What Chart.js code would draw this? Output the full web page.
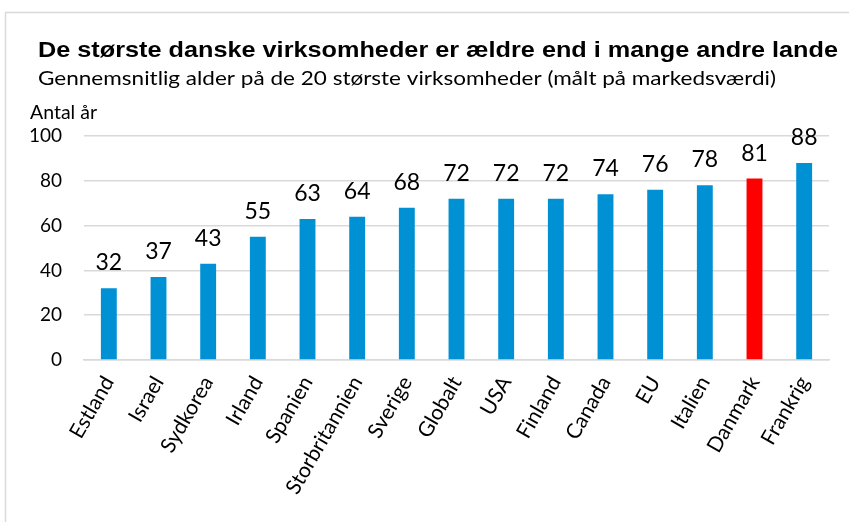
<!DOCTYPE html>
<html>
<head>
<meta charset="utf-8">
<script src="https://cdn.jsdelivr.net/npm/chart.js@4"></script>
<style>
  html, body { margin: 0; padding: 0; background: #fff; }
  #wrap { width: 849px; height: 522px; position: relative; }
</style>
</head>
<body>
<div id="wrap"><canvas id="chart" width="849" height="522"></canvas></div>
<script>
// data
var lande = ['Estland', 'Israel', 'Sydkorea', 'Irland', 'Spanien', 'Storbritannien', 'Sverige',
             'Globalt', 'USA', 'Finland', 'Canada', 'EU', 'Italien', 'Danmark', 'Frankrig'];
var alder = [32, 37, 43, 55, 63, 64, 68, 72, 72, 72, 74, 76, 78, 81, 88];
var yTicks = [0, 20, 40, 60, 80, 100];

var blaa = '#0091d5';
var roed = '#ff0000';
var farver = lande.map(function(l){ return l === 'Danmark' ? roed : blaa; });

// the reference text is a bit wider than the fonts we have, so stretch it sideways
function strakTekst(ctx, txt, x, y, bredde){
    var w = ctx.measureText(txt).width;
    ctx.save();
    ctx.translate(x, y);
    ctx.scale(bredde / w, 1);
    ctx.fillText(txt, 0, 0);
    ctx.restore();
}

var tekster = {
    id: 'tekster',
    beforeDraw: function(chart){
        var ctx = chart.ctx;
        ctx.save();
        // frame
        ctx.strokeStyle = '#d9d9d9';
        ctx.lineWidth = 1.5;
        ctx.beginPath();
        ctx.moveTo(5.5, 530);
        ctx.lineTo(5.5, 12.5);
        ctx.lineTo(860, 12.5);
        ctx.stroke();
        ctx.restore();
    },
    afterDraw: function(chart){
        var ctx = chart.ctx;
        ctx.save();
        ctx.fillStyle = '#000';
        ctx.textBaseline = 'alphabetic';
        ctx.textAlign = 'left';
        ctx.font = 'bold 22px "Liberation Sans", Arial, sans-serif';
        strakTekst(ctx, 'De største danske virksomheder er ældre end i mange andre lande', 38, 57, 800);
        ctx.font = '19px Lato, sans-serif';
        strakTekst(ctx, 'Gennemsnitlig alder på de 20 største virksomheder (målt på markedsværdi)', 38, 85, 738);
        strakTekst(ctx, 'Antal år', 30, 119, 67);

        // value labels above the bars
        var meta = chart.getDatasetMeta(0);
        ctx.font = '23px Lato, sans-serif';
        ctx.textAlign = 'center';
        meta.data.forEach(function(bar, i){
            ctx.fillText(String(alder[i]), bar.x, bar.y - 18);
        });
        ctx.restore();
    }
};

var ctx = document.getElementById('chart').getContext('2d');
var myChart = new Chart(ctx, {
    type: 'bar',
    data: {
        labels: lande,
        datasets: [{
            data: alder,
            backgroundColor: farver,
            borderWidth: 0,
            categoryPercentage: 1,
            barPercentage: 0.32
        }]
    },
    options: {
        responsive: false,
        animation: false,
        layout: { padding: { top: 136, right: 20, bottom: 0, left: 0 } },
        plugins: {
            legend: { display: false },
            tooltip: { enabled: false }
        },
        scales: {
            x: {
                grid: { display: false, drawTicks: false },
                border: { color: '#d9d9d9', width: 1.5 },
                ticks: {
                    color: '#000',
                    font: { family: 'Lato', size: 21 },
                    minRotation: 60,
                    maxRotation: 60,
                    autoSkip: false,
                    padding: 12
                },
                afterFit: function(scale){ scale.height = 162; }
            },
            y: {
                min: 0,
                max: 100,
                afterBuildTicks: function(scale){
                    scale.ticks = yTicks.map(function(v){ return { value: v }; });
                },
                grid: { color: '#d9d9d9', lineWidth: 1.5, drawTicks: false },
                border: { display: false },
                ticks: {
                    color: '#000',
                    font: { family: 'Lato', size: 19 },
                    padding: 22
                },
                afterFit: function(scale){ scale.width = 84; }
            }
        }
    },
    plugins: [tekster]
});
</script>
</body>
</html>
